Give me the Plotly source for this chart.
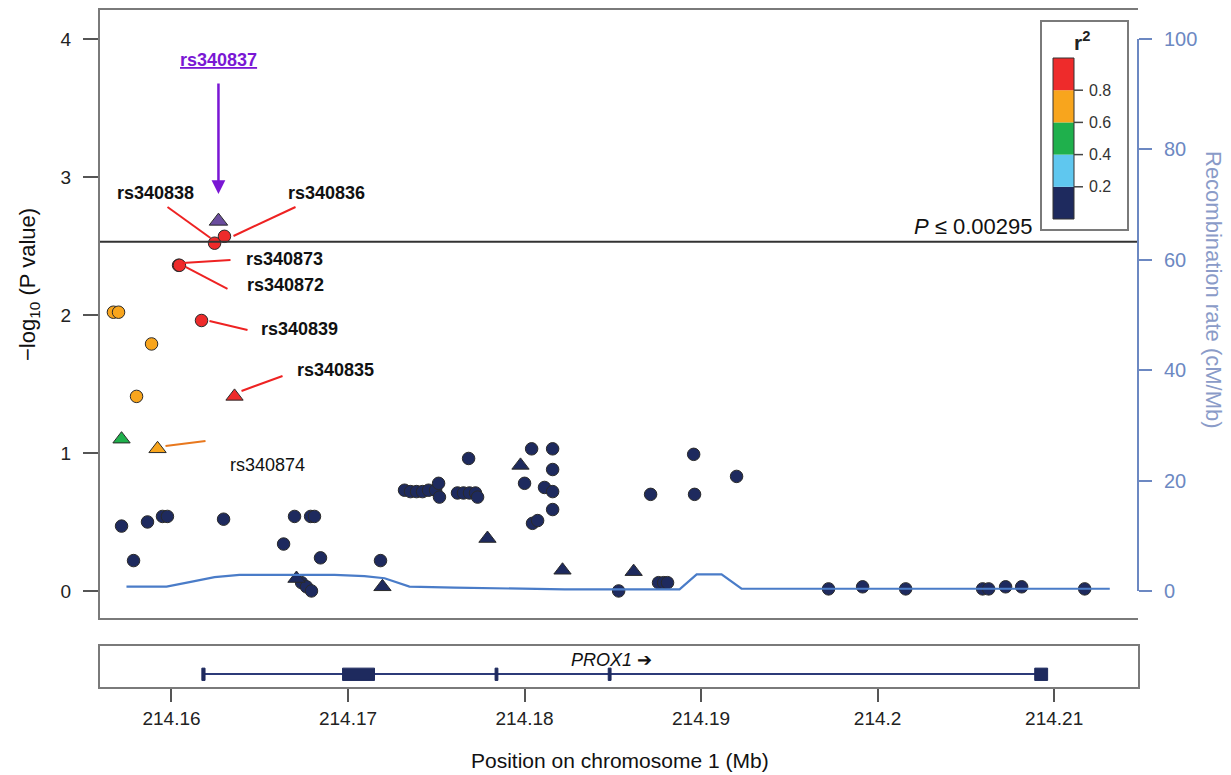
import plotly.graph_objects as go

# ---------------- data ----------------
# SNPs: position (Mb), -log10 P, r^2 with index SNP, marker shape
snp_pos = [214.15671, 214.15700, 214.15887, 214.15802, 214.15717, 214.15921,
           214.16244, 214.16300, 214.16040, 214.16045, 214.16170, 214.16357,
           214.15717, 214.15785, 214.15864, 214.15949, 214.15977, 214.16295,
           214.16635, 214.16697, 214.16788, 214.16810, 214.16844, 214.17184,
           214.16737, 214.16765, 214.16793, 214.16708, 214.17195,
           214.17320, 214.17354, 214.17388, 214.17422, 214.17456, 214.17496, 214.17513, 214.17518,
           214.17683, 214.17620, 214.17654, 214.17688, 214.17722, 214.17734,
           214.17790, 214.17977, 214.18040, 214.18159, 214.18000, 214.18159,
           214.18113, 214.18159, 214.18159, 214.18045, 214.18074,
           214.18215, 214.18618, 214.18533, 214.18759, 214.18788, 214.18810,
           214.18714, 214.18958, 214.18963, 214.19201,
           214.19722, 214.19915, 214.20159, 214.20595, 214.20629, 214.20725, 214.20816, 214.21173]
snp_logp = [2.02, 2.02, 1.79, 1.41, 1.10, 1.03,
            2.52, 2.57, 2.36, 2.36, 1.96, 1.41,
            0.47, 0.22, 0.50, 0.54, 0.54, 0.52,
            0.34, 0.54, 0.54, 0.54, 0.24, 0.22,
            0.06, 0.03, 0.00, 0.09, 0.03,
            0.73, 0.72, 0.72, 0.72, 0.73, 0.73, 0.78, 0.68,
            0.96, 0.71, 0.71, 0.71, 0.71, 0.68,
            0.38, 0.91, 1.03, 1.03, 0.78, 0.88,
            0.75, 0.72, 0.59, 0.49, 0.51,
            0.15, 0.14, 0.00, 0.06, 0.06, 0.06,
            0.70, 0.99, 0.70, 0.83,
            0.015, 0.03, 0.015, 0.015, 0.015, 0.03, 0.03, 0.015]
snp_r2 = [0.7, 0.7, 0.7, 0.7, 0.5, 0.7,
          0.9, 0.9, 0.9, 0.9, 0.9, 0.9] + [0.1] * 60
snp_shape = ["circle", "circle", "circle", "circle", "triangle-up", "triangle-up",
             "circle", "circle", "circle", "circle", "circle", "triangle-up",
             "circle", "circle", "circle", "circle", "circle", "circle",
             "circle", "circle", "circle", "circle", "circle", "circle",
             "circle", "circle", "circle", "triangle-up", "triangle-up",
             "circle", "circle", "circle", "circle", "circle", "circle", "circle", "circle",
             "circle", "circle", "circle", "circle", "circle", "circle",
             "triangle-up", "triangle-up", "circle", "circle", "circle", "circle",
             "circle", "circle", "circle", "circle", "circle",
             "triangle-up", "triangle-up", "circle", "circle", "circle", "circle",
             "circle", "circle", "circle", "circle",
             "circle", "circle", "circle", "circle", "circle", "circle", "circle", "circle"]

index_snp = "rs340837"
index_pos = [214.16266]
index_logp = [2.68]

# recombination rate (cM/Mb)
recomb_pos = [214.15745, 214.15972, 214.16102, 214.16244, 214.16385, 214.16924, 214.17093,
              214.17207, 214.17348, 214.17603, 214.18227, 214.18878, 214.18975, 214.19116,
              214.19229, 214.21315]
recomb_rate = [0.8, 0.8, 1.6, 2.5, 2.9, 2.9, 2.7, 2.3, 0.8, 0.6, 0.3, 0.3, 3.0, 3.0, 0.4, 0.4]

# gene PROX1
gene_name = "PROX1"
gene_start, gene_end = 214.16181, 214.20929
exon_starts = [214.16172, 214.16969, 214.17833, 214.18474, 214.20890]
exon_ends = [214.16190, 214.17150, 214.17849, 214.18490, 214.20963]

sig_logp = 2.530  # -log10(0.00295)

x_ticks = [214.16, 214.17, 214.18, 214.19, 214.2, 214.21]
x_ticktext = ["214.16", "214.17", "214.18", "214.19", "214.2", "214.21"]
r2_bins = [0.0, 0.2, 0.4, 0.6, 0.8, 1.0]
r2_ticks = [0.2, 0.4, 0.6, 0.8]
r2_colors = ["#1e2a5e", "#5fc7ef", "#1fb04c", "#f8a51d", "#ee2b2b"]

FONT = "Arial, Liberation Sans, sans-serif"
NAVY_LINE = "#4a7cc8"
AX_BLUE = "#6c88c2"
GRAY = "#7a7a7a"
PURPLE = "#7a17d4"

colorscale = []
for i, c in enumerate(r2_colors):
    colorscale.append([r2_bins[i], c])
    colorscale.append([r2_bins[i + 1], c])

fig = go.Figure()

# recombination line (right axis)
fig.add_trace(go.Scatter(x=recomb_pos, y=recomb_rate, xaxis="x2", yaxis="y2",
                         mode="lines", line=dict(color=NAVY_LINE, width=2.2),
                         hoverinfo="skip", showlegend=False))

# SNPs
fig.add_trace(go.Scatter(
    x=snp_pos, y=snp_logp, xaxis="x2", yaxis="y", mode="markers", showlegend=False,
    marker=dict(
        color=snp_r2, colorscale=colorscale, cmin=0, cmax=1, showscale=False,
        symbol=snp_shape, opacity=1,
        size=[15 if s == "triangle-up" else 12.5 for s in snp_shape],
        line=dict(color="#2a2a2a", width=1),
    ),
))

# index SNP
fig.add_trace(go.Scatter(x=index_pos, y=index_logp, xaxis="x2", yaxis="y", mode="markers",
                         showlegend=False,
                         marker=dict(symbol="triangle-up", size=16, color="#6a4c9e", opacity=1,
                                     line=dict(color="#2a2a2a", width=1))))

# gene line and exons
fig.add_shape(type="line", xref="x", yref="y3", x0=gene_start, x1=gene_end, y0=0.32, y1=0.32,
              line=dict(color="#2c3a78", width=2))
for s, e in zip(exon_starts, exon_ends):
    fig.add_shape(type="rect", xref="x", yref="y3", x0=s, x1=e, y0=0.16, y1=0.46,
                  line=dict(color="#1e2a5e", width=1), fillcolor="#1e2a5e")
fig.add_annotation(x=(gene_start + gene_end) / 2 - 0.0006, y=0.66, xref="x", yref="y3",
                   xanchor="center", yanchor="middle",
                   text="<i>" + gene_name + "</i> \u2794", showarrow=False,
                   font=dict(family=FONT, size=18, color="#111111"))

# significance threshold
fig.add_shape(type="line", xref="x2 domain", yref="y", x0=0, x1=1, y0=sig_logp, y1=sig_logp,
              line=dict(color="#333333", width=2))
fig.add_annotation(xref="x2 domain", yref="y", x=0.9007, y=sig_logp, xanchor="right",
                   yanchor="bottom", yshift=1, showarrow=False,
                   text="<i>P</i> \u2264 0.00295", font=dict(family=FONT, size=22, color="#111111"))

# right axis line only over the tick range
fig.add_shape(type="line", xref="x2 domain", yref="y2", x0=1, x1=1, y0=0, y1=100,
              line=dict(color=AX_BLUE, width=2))

# ---------------- r^2 legend (paper coords from pixel layout) ----------------
PL, PW, PB, PH = 100, 1038, 687, 677


def fx(px):
    return (px - PL) / PW


def fy(py):
    return (PB - py) / PH


fig.add_shape(type="rect", xref="paper", yref="paper", x0=fx(1041), x1=fx(1128),
              y0=fy(230), y1=fy(21), line=dict(color=GRAY, width=2), fillcolor="white")
bar_top, bar_bot = 58, 219
for i, c in enumerate(r2_colors):
    y_lo = bar_bot - (bar_bot - bar_top) * r2_bins[i]
    y_hi = bar_bot - (bar_bot - bar_top) * r2_bins[i + 1]
    fig.add_shape(type="rect", xref="paper", yref="paper", x0=fx(1053), x1=fx(1074),
                  y0=fy(y_lo), y1=fy(y_hi), line=dict(width=0), fillcolor=c)
fig.add_shape(type="rect", xref="paper", yref="paper", x0=fx(1053), x1=fx(1074),
              y0=fy(bar_bot), y1=fy(bar_top), line=dict(color="#333333", width=1))
for t in r2_ticks:
    ty = bar_bot - (bar_bot - bar_top) * t
    fig.add_shape(type="line", xref="paper", yref="paper", x0=fx(1074), x1=fx(1083),
                  y0=fy(ty), y1=fy(ty), line=dict(color="#444444", width=1.5))
    fig.add_annotation(xref="paper", yref="paper", x=fx(1087), y=fy(ty), xanchor="left",
                       yanchor="middle", text=f"{t:.1f}", showarrow=False,
                       font=dict(family=FONT, size=16, color="#333333"))
fig.add_annotation(xref="paper", yref="paper", x=fx(1082), y=fy(41), xanchor="center",
                   yanchor="middle", text="<b>r<sup>2</sup></b>", showarrow=False,
                   font=dict(family=FONT, size=21, color="#222222"))


def px2x(px):
    return 214.16 + (px - 172) / 17650.0


def px2y(py):
    return (591 - py) / 138.0


# labels
bold_labels = [("rs340838", 156, 193), ("rs340836", 327, 193), ("rs340873", 285, 259),
               ("rs340872", 286, 285), ("rs340839", 300, 329), ("rs340835", 336, 370)]
for t, px, py in bold_labels:
    fig.add_annotation(x=px2x(px), y=px2y(py), xref="x2", yref="y", text="<b>" + t + "</b>",
                       xanchor="center", yanchor="middle",
                       showarrow=False, font=dict(family=FONT, size=18, color="#111111"))
fig.add_annotation(x=px2x(268), y=px2y(465), xref="x2", yref="y", text="rs340874",
                   xanchor="center", yanchor="middle",
                   showarrow=False, font=dict(family=FONT, size=18, color="#111111"))

leaders = [((168, 207), (211, 238), "#ee2222"), ((296, 207), (234, 236), "#ee2222"),
           ((231, 260), (183, 263), "#ee2222"), ((186, 267), (228, 289), "#ee2222"),
           ((210, 321), (248, 330), "#ee2222"), ((242, 391), (283, 376), "#ee2222"),
           ((166, 446), (206, 441), "#e8781e")]
for (a, b, c) in leaders:
    fig.add_shape(type="line", xref="x2", yref="y", x0=px2x(a[0]), y0=px2y(a[1]),
                  x1=px2x(b[0]), y1=px2y(b[1]), line=dict(color=c, width=2))

# index SNP label + arrow
fig.add_annotation(x=index_pos[0], y=px2y(60), xref="x2", yref="y",
                   xanchor="center", yanchor="middle",
                   text="<u><b>" + index_snp + "</b></u>", showarrow=False,
                   font=dict(family=FONT, size=18, color=PURPLE))
fig.add_annotation(x=index_pos[0], y=px2y(194), xref="x2", yref="y", text="",
                   showarrow=True, ax=0, ay=-112, arrowhead=2, arrowsize=1.1,
                   arrowwidth=2.5, arrowcolor=PURPLE)

# axis titles
fig.add_annotation(xref="paper", yref="paper", x=fx(29), y=fy(285), textangle=-90,
                   xanchor="center", yanchor="middle",
                   text="\u2212log<sub>10</sub> (P value)", showarrow=False,
                   font=dict(family=FONT, size=22, color="#111111"))
fig.add_annotation(xref="paper", yref="paper", x=fx(1213), y=fy(290), textangle=90,
                   xanchor="center", yanchor="middle",
                   text="Recombination rate (cM/Mb)", showarrow=False,
                   font=dict(family=FONT, size=22, color="#8a9bc8"))
fig.add_annotation(xref="paper", yref="paper", x=fx(620), y=fy(760),
                   xanchor="center", yanchor="middle",
                   text="Position on chromosome 1 (Mb)", showarrow=False,
                   font=dict(family=FONT, size=21, color="#111111"))

x_range = [214.15595, 214.21475]
main_dom = [(687 - 618) / 677, 1.0]
gene_dom = [0.0, (687 - 646) / 677]

# the page body adds an 8 px offset, so the margins are reduced by 8 px on left/top
fig.update_layout(
    width=1231, height=775,
    margin=dict(l=92, r=101, t=2, b=96, autoexpand=False),
    paper_bgcolor="white", plot_bgcolor="white",
    font=dict(family=FONT, size=18, color="#111111"),
    showlegend=False,
    xaxis=dict(domain=[0, 1], range=x_range, anchor="y3", tickmode="array",
               tickvals=x_ticks, ticktext=x_ticktext, ticks="outside", ticklen=13,
               tickwidth=1.5, tickcolor="#555555", showgrid=False, zeroline=False,
               showline=True, mirror=True, linecolor=GRAY, linewidth=2,
               tickfont=dict(family=FONT, size=19, color="#222222")),
    xaxis2=dict(domain=[0, 1], range=x_range, anchor="y", matches="x", showticklabels=False,
                ticks="", showgrid=False, zeroline=False, showline=True, mirror=True,
                linecolor=GRAY, linewidth=2),
    yaxis=dict(domain=main_dom, range=[-0.196, 4.210], anchor="x2", tickmode="array",
               tickvals=[0, 1, 2, 3, 4], ticks="outside", ticklen=15, tickwidth=1.5,
               tickcolor="#555555", showgrid=False, zeroline=False, showline=True,
               linecolor=GRAY, linewidth=2, ticklabelstandoff=8,
               tickfont=dict(family=FONT, size=19, color="#222222")),
    yaxis2=dict(domain=main_dom, range=[-4.9, 105.25], overlaying="y", side="right",
                anchor="x2", tickmode="array", tickvals=[0, 20, 40, 60, 80, 100],
                ticks="outside", ticklen=13, tickwidth=2, tickcolor=AX_BLUE,
                showgrid=False, zeroline=False, showline=False, ticklabelstandoff=8,
                tickfont=dict(family=FONT, size=20, color=AX_BLUE)),
    yaxis3=dict(domain=gene_dom, range=[0, 1], anchor="x", showticklabels=False, ticks="",
                showgrid=False, zeroline=False, showline=True, mirror=True,
                linecolor=GRAY, linewidth=2),
)

fig.write_html("out.html")
